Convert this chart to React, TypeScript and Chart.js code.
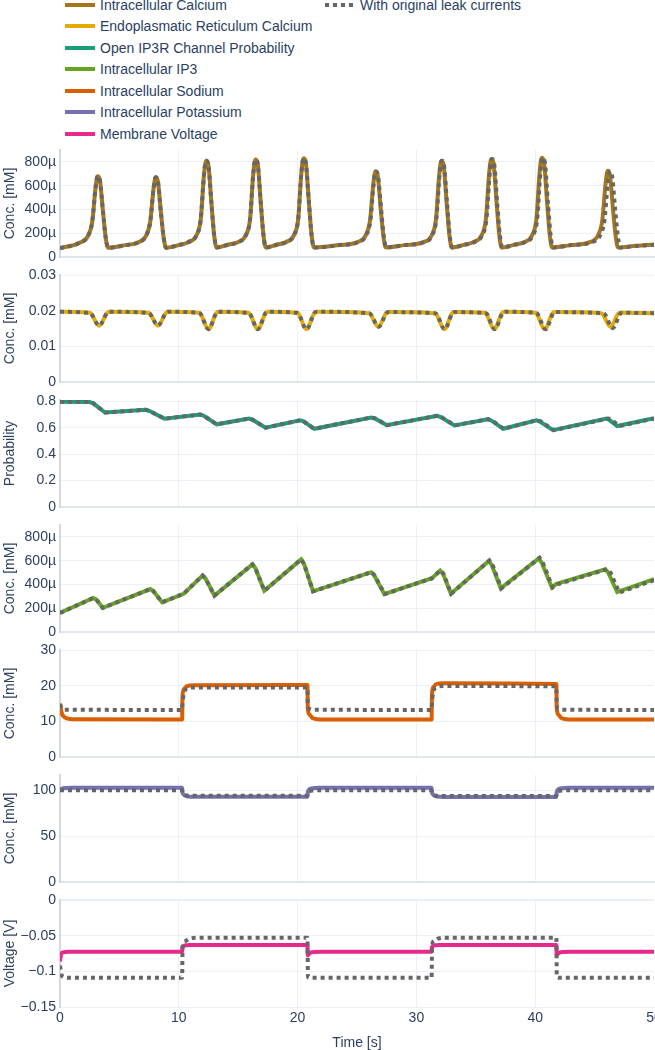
import React, { useEffect, useRef } from "react";
import { Chart, registerables } from "chart.js";

Chart.register(...registerables);

const FONT = '"Liberation Sans", Arial, sans-serif';
const TEXT = "#2a3f5f";
const GRID = "#ebf0f8";
const AXIS = "#d3d8df";
const DOT_COLOR = "#666666";

// ---------- tick values ----------
const TIME_TICKS = [0, 10, 20, 30, 40, 50];
const CA_TICKS = [0, 0.0002, 0.0004, 0.0006, 0.0008];
const ER_TICKS = [0, 0.01, 0.02, 0.03];
const PR_TICKS = [0, 0.2, 0.4, 0.6, 0.8];
const IP_TICKS = [0, 0.0002, 0.0004, 0.0006, 0.0008];
const NA_TICKS = [0, 10, 20, 30];
const K_TICKS = [0, 50, 100];
const V_TICKS = [-0.15, -0.1, -0.05, 0];

// ---------- legend ----------
const LEGEND_NAMES = [
  "Intracellular Calcium",
  "Endoplasmatic Reticulum Calcium",
  "Open IP3R Channel Probability",
  "Intracellular IP3",
  "Intracellular Sodium",
  "Intracellular Potassium",
  "Membrane Voltage",
];
const LEGEND_COLORS = ["#a6761d", "#e6ab02", "#1b9e77", "#66a61e", "#d95f02", "#7570b3", "#e7298a"];
const DOTTED_NAME = "With original leak currents";

// ---------- Intracellular calcium (µM) ----------
const CA_T = [
  0, 1.6, 2.37, 2.72, 2.99, 3.17, 3.35, 3.62, 3.85, 4.05,
  5.5, 6.55, 7.25, 7.6, 7.87, 8.05, 8.23, 8.5, 8.73, 8.93,
  10.0, 10.8, 11.5, 11.85, 12.12, 12.3, 12.48, 12.75, 12.98, 13.18,
  14.2, 14.95, 15.65, 16.0, 16.27, 16.45, 16.63, 16.9, 17.13, 17.33,
  18.3, 19.0, 19.7, 20.05, 20.32, 20.5, 20.68, 20.95, 21.18, 21.38,
  23.5, 25.05, 25.75, 26.1, 26.37, 26.55, 26.73, 27.0, 27.23, 27.43,
  29.0, 30.6, 31.3, 31.65, 31.92, 32.1, 32.28, 32.55, 32.78, 32.98,
  34.0, 34.8, 35.5, 35.85, 36.12, 36.3, 36.48, 36.75, 36.98, 37.18,
  38.2, 39.05, 39.75, 40.1, 40.37, 40.55, 40.73, 41.0, 41.23, 41.43,
  43.0, 44.6, 45.3, 45.65, 45.92, 46.1, 46.28, 46.55, 46.78, 46.98,
  48.5, 50,
];
const CA_UM = [
  75, 118, 180, 300, 580, 680, 650, 380, 160, 78,
  100, 122, 180, 300, 570, 670, 640, 370, 160, 78,
  100, 125, 185, 320, 690, 810, 780, 450, 180, 80,
  105, 125, 185, 320, 700, 820, 790, 455, 180, 80,
  105, 125, 185, 320, 710, 830, 800, 460, 180, 80,
  100, 125, 185, 310, 610, 720, 690, 400, 170, 80,
  100, 125, 185, 320, 690, 810, 780, 450, 180, 80,
  102, 125, 185, 320, 700, 825, 795, 455, 180, 80,
  102, 125, 185, 320, 710, 835, 805, 460, 180, 80,
  100, 125, 185, 310, 615, 725, 695, 400, 170, 80,
  95, 105,
];
const CA_ORIG_T = [
  0, 1.6, 2.37, 2.72, 2.99, 3.17, 3.35, 3.62, 3.85, 4.05,
  5.5, 6.55, 7.25, 7.6, 7.87, 8.05, 8.23, 8.5, 8.73, 8.93,
  10.0, 10.8, 11.5, 11.85, 12.12, 12.3, 12.48, 12.75, 12.98, 13.18,
  14.2, 14.95, 15.65, 16.0, 16.27, 16.45, 16.63, 16.9, 17.13, 17.33,
  18.3, 19.0, 19.7, 20.05, 20.32, 20.5, 20.68, 20.95, 21.18, 21.38,
  23.5, 25.08, 25.78, 26.13, 26.4, 26.58, 26.76, 27.03, 27.26, 27.46,
  29.0, 30.63, 31.33, 31.68, 31.95, 32.13, 32.31, 32.58, 32.81, 33.01,
  34.0, 34.85, 35.55, 35.9, 36.17, 36.35, 36.53, 36.8, 37.03, 37.23,
  38.2, 39.12, 39.82, 40.17, 40.44, 40.62, 40.8, 41.07, 41.3, 41.5,
  43.0, 44.78, 45.48, 45.83, 46.1, 46.28, 46.46, 46.73, 46.96, 47.16,
  48.5, 50,
];
const CA_ORIG_UM = [
  75, 118, 180, 300, 580, 680, 650, 380, 160, 78,
  100, 122, 180, 300, 570, 670, 640, 370, 160, 78,
  100, 125, 185, 320, 690, 810, 780, 450, 180, 80,
  105, 125, 185, 320, 700, 820, 790, 455, 180, 80,
  105, 125, 185, 320, 710, 830, 800, 460, 180, 80,
  100, 125, 185, 310, 610, 720, 690, 400, 170, 80,
  100, 125, 185, 320, 690, 810, 780, 450, 180, 80,
  102, 125, 185, 320, 700, 825, 795, 455, 180, 80,
  102, 125, 185, 320, 710, 835, 805, 460, 180, 80,
  100, 125, 185, 310, 610, 720, 690, 400, 170, 80,
  93, 102,
];

// ---------- ER calcium (mM) ----------
const ER_T = [
  0, 2.4, 2.6, 3.3, 3.95, 4.15,
  7.35, 7.55, 8.25, 8.9, 9.1,
  11.6, 11.8, 12.5, 13.15, 13.35,
  15.75, 15.95, 16.65, 17.3, 17.5,
  19.85, 20.05, 20.75, 21.4, 21.6,
  25.9, 26.1, 26.8, 27.45, 27.65,
  31.45, 31.65, 32.35, 33.0, 33.2,
  35.65, 35.85, 36.55, 37.2, 37.4,
  39.9, 40.1, 40.8, 41.45, 41.65,
  45.45, 45.65, 46.35, 47.0, 47.2,
  50,
];
const ER_V = [
  0.0197, 0.0194, 0.0192, 0.0158, 0.0193, 0.0197,
  0.0194, 0.0192, 0.0158, 0.0193, 0.0197,
  0.0194, 0.0192, 0.0148, 0.0193, 0.0197,
  0.0194, 0.0192, 0.0148, 0.0193, 0.0197,
  0.0194, 0.0192, 0.0148, 0.0193, 0.0197,
  0.0193, 0.0191, 0.0155, 0.0193, 0.0196,
  0.0193, 0.0191, 0.0148, 0.0193, 0.0196,
  0.0194, 0.0192, 0.0148, 0.0193, 0.0197,
  0.0194, 0.0192, 0.0148, 0.0193, 0.0196,
  0.0193, 0.0191, 0.0155, 0.0192, 0.0194,
  0.0193,
];
const ER_ORIG_T = [
  0, 2.4, 2.6, 3.3, 3.95, 4.15,
  7.35, 7.55, 8.25, 8.9, 9.1,
  11.6, 11.8, 12.5, 13.15, 13.35,
  15.75, 15.95, 16.65, 17.3, 17.5,
  19.85, 20.05, 20.75, 21.4, 21.6,
  25.93, 26.13, 26.83, 27.48, 27.68,
  31.48, 31.68, 32.38, 33.03, 33.23,
  35.7, 35.9, 36.6, 37.25, 37.45,
  39.97, 40.17, 40.87, 41.52, 41.72,
  45.63, 45.83, 46.53, 47.18, 47.38,
  50,
];
const ER_ORIG_V = [
  0.0197, 0.0194, 0.0192, 0.0158, 0.0193, 0.0197,
  0.0194, 0.0192, 0.0158, 0.0193, 0.0197,
  0.0194, 0.0192, 0.0148, 0.0193, 0.0197,
  0.0194, 0.0192, 0.0148, 0.0193, 0.0197,
  0.0194, 0.0192, 0.0148, 0.0193, 0.0197,
  0.0193, 0.0191, 0.0155, 0.0193, 0.0196,
  0.0193, 0.0191, 0.0148, 0.0193, 0.0196,
  0.0194, 0.0192, 0.0148, 0.0193, 0.0197,
  0.0194, 0.0192, 0.0148, 0.0193, 0.0196,
  0.0193, 0.0191, 0.0151, 0.0192, 0.0194,
  0.0193,
];

// ---------- Open IP3R channel probability ----------
const PR_T = [
  0, 2.5, 2.8, 3.8, 7.2, 7.5, 8.8, 11.8, 12.1, 13.2, 15.9, 16.2, 17.3,
  20.2, 20.5, 21.4, 26.2, 26.5, 27.5, 31.75, 32.05, 33.2, 36.0, 36.3, 37.3,
  40.1, 40.4, 41.5, 46.0, 46.2, 46.9, 50,
];
const PR_V = [
  0.797, 0.794, 0.785, 0.715, 0.736, 0.728, 0.669, 0.7, 0.691, 0.626, 0.669, 0.661, 0.6,
  0.656, 0.648, 0.592, 0.677, 0.67, 0.62, 0.69, 0.681, 0.618, 0.664, 0.655, 0.592,
  0.656, 0.647, 0.582, 0.669, 0.662, 0.613, 0.672,
];
const PR_ORIG_T = [
  0, 2.5, 2.8, 3.8, 7.2, 7.5, 8.8, 11.8, 12.1, 13.2, 15.9, 16.2, 17.3,
  20.2, 20.5, 21.4, 26.23, 26.53, 27.53, 31.78, 32.08, 33.23, 36.05, 36.35, 37.35,
  40.17, 40.47, 41.57, 46.18, 46.38, 47.08, 50,
];
const PR_ORIG_V = [
  0.797, 0.794, 0.785, 0.715, 0.736, 0.728, 0.669, 0.7, 0.691, 0.626, 0.669, 0.661, 0.6,
  0.656, 0.648, 0.592, 0.678, 0.671, 0.62, 0.691, 0.682, 0.618, 0.665, 0.656, 0.592,
  0.657, 0.648, 0.582, 0.67, 0.663, 0.613, 0.669,
];

// ---------- Intracellular IP3 (µM) ----------
const IP_T = [
  0, 2.8, 3.05, 3.6, 7.6, 7.85, 8.6, 10.4, 12.0, 12.25, 13.0, 16.2, 16.45, 17.2,
  20.3, 20.55, 21.3, 26.2, 26.45, 27.3, 31.3, 32.0, 32.25, 32.9, 36.1, 36.35, 37.1,
  40.3, 40.55, 41.4, 41.8, 45.9, 46.15, 46.9, 50,
];
const IP_UM = [
  160, 286, 274, 203, 361, 344, 250, 321, 475, 450, 306, 569, 536, 347,
  611, 571, 342, 503, 475, 319, 452, 517, 488, 322, 597, 562, 367,
  619, 582, 375, 405, 528, 499, 336, 444,
];
const IP_ORIG_T = [
  0, 2.8, 3.05, 3.6, 7.6, 7.85, 8.6, 10.4, 12.0, 12.25, 13.0, 16.2, 16.45, 17.2,
  20.3, 20.55, 21.3, 26.23, 26.48, 27.33, 31.3, 32.03, 32.28, 32.93, 36.15, 36.4, 37.15,
  40.37, 40.62, 41.47, 41.85, 46.08, 46.33, 47.08, 50,
];
const IP_ORIG_UM = [
  160, 286, 274, 203, 361, 344, 250, 321, 475, 450, 306, 569, 536, 347,
  611, 571, 342, 504, 476, 319, 451, 519, 490, 322, 601, 566, 367,
  625, 588, 375, 400, 530, 501, 332, 436,
];

// ---------- Intracellular sodium (mM) ----------
const NA_T = [
  0, 0.12, 0.3, 0.6, 1.1, 10.28, 10.31, 10.43, 10.7, 11.25,
  20.83, 20.86, 21.0, 21.23, 21.63, 22.3, 31.28, 31.31, 31.43, 31.7, 32.25,
  41.78, 41.81, 41.95, 42.18, 42.58, 43.2, 50,
];
const NA_V = [
  15.0, 12.6, 11.4, 10.8, 10.55, 10.5, 17.0, 19.0, 19.9, 20.15,
  20.2, 13.6, 11.9, 11.0, 10.6, 10.5, 10.5, 17.5, 19.6, 20.5, 20.7,
  20.5, 13.7, 11.9, 11.0, 10.6, 10.5, 10.5,
];
const NA_ORIG_T = [
  0, 0.15, 0.4, 10.28, 10.31, 10.45, 10.7, 11.2, 20.83, 20.86, 21.0, 21.3,
  31.28, 31.31, 31.45, 31.7, 32.2, 41.78, 41.81, 41.95, 42.25, 50,
];
const NA_ORIG_V = [
  14.8, 13.6, 13.25, 13.2, 15.0, 18.0, 19.2, 19.5, 19.5, 14.5, 13.5, 13.25,
  13.2, 15.2, 18.4, 19.6, 19.9, 19.8, 14.6, 13.5, 13.25, 13.2,
];

// ---------- Intracellular potassium (mM) ----------
const K_T = [
  0, 0.15, 0.5, 1.0, 10.28, 10.31, 10.45, 10.75, 11.3, 20.83, 20.86, 21.0, 21.3, 21.8,
  31.28, 31.31, 31.45, 31.75, 32.3, 41.78, 41.81, 41.95, 42.25, 42.8, 50,
];
const K_V = [
  100.5, 102, 102.8, 103, 103, 98, 95, 93.6, 93.3, 93.3, 98.5, 101.5, 102.6, 103,
  103, 98, 95, 93.4, 93.0, 93.0, 98.5, 101.5, 102.6, 103, 103,
];
const K_ORIG_T = [
  0, 10.28, 10.31, 10.45, 10.75, 11.3, 20.83, 20.86, 21.0, 21.3, 21.8,
  31.28, 31.31, 31.45, 31.75, 32.3, 41.78, 41.81, 41.95, 42.25, 42.8, 50,
];
const K_ORIG_V = [
  100.2, 100.2, 97.5, 95.3, 94.5, 94.3, 94.3, 97.5, 99.3, 100.0, 100.2,
  100.2, 97.5, 95.2, 94.3, 94.1, 94.1, 97.5, 99.3, 100.0, 100.2, 100.2,
];

// ---------- Membrane voltage (V) ----------
const V_T = [
  0, 0.08, 0.25, 0.7, 10.28, 10.31, 10.45, 10.9, 20.83, 20.86, 21.0, 21.35, 22,
  31.28, 31.31, 31.45, 31.9, 41.78, 41.81, 41.95, 42.3, 43, 50,
];
const V_V = [
  -0.086, -0.077, -0.0735, -0.0725, -0.0724, -0.0665, -0.064, -0.063, -0.063, -0.0775, -0.0748, -0.0728, -0.0725,
  -0.0725, -0.0665, -0.064, -0.063, -0.063, -0.0775, -0.0748, -0.0728, -0.0725, -0.0725,
];
const V_ORIG_T = [
  0, 0.12, 0.35, 1.0, 10.28, 10.32, 10.5, 10.85, 11.5, 20.83, 20.87, 21.05,
  31.28, 31.32, 31.5, 31.85, 32.5, 41.78, 41.82, 42.0, 50,
];
const V_ORIG_V = [
  -0.092, -0.104, -0.1085, -0.109, -0.109, -0.065, -0.058, -0.0545, -0.053, -0.0528, -0.108, -0.109,
  -0.109, -0.064, -0.057, -0.054, -0.0528, -0.0528, -0.108, -0.109, -0.109,
];

type Pt = { x: number; y: number };
const pts = (t: number[], v: number[], unit = 1): Pt[] => t.map((x, i) => ({ x, y: v[i] * unit }));
const MICRO = 1e-6;

const fmtMicro = (v: number) => (v === 0 ? "0" : Math.round(v * 1e6) + "µ");
const fmtPlain = (v: number) => {
  const s = String(Math.round(v * 1000) / 1000);
  return s.replace("-", "\u2212");
};

interface PanelCfg {
  top: number;
  title: string;
  color: string;
  solid: Pt[];
  dotted: Pt[];
  min: number;
  max: number;
  ticks: number[];
  fmt: (v: number) => string;
  smooth: boolean;
  bottom?: boolean;
}

const PITCH = 125;
const FIRST_TOP = 150;
const PLOT_H = 107;

const PANELS: PanelCfg[] = [
  { top: FIRST_TOP, title: "Conc. [mM]", color: LEGEND_COLORS[0], solid: pts(CA_T, CA_UM, MICRO), dotted: pts(CA_ORIG_T, CA_ORIG_UM, MICRO), min: 0, max: 0.0009, ticks: CA_TICKS, fmt: fmtMicro, smooth: true },
  { top: FIRST_TOP + PITCH, title: "Conc. [mM]", color: LEGEND_COLORS[1], solid: pts(ER_T, ER_V), dotted: pts(ER_ORIG_T, ER_ORIG_V), min: 0, max: 0.03, ticks: ER_TICKS, fmt: fmtPlain, smooth: true },
  { top: FIRST_TOP + PITCH * 2, title: "Probability", color: LEGEND_COLORS[2], solid: pts(PR_T, PR_V), dotted: pts(PR_ORIG_T, PR_ORIG_V), min: 0, max: 0.81, ticks: PR_TICKS, fmt: fmtPlain, smooth: false },
  { top: FIRST_TOP + PITCH * 3, title: "Conc. [mM]", color: LEGEND_COLORS[3], solid: pts(IP_T, IP_UM, MICRO), dotted: pts(IP_ORIG_T, IP_ORIG_UM, MICRO), min: 0, max: 0.0009, ticks: IP_TICKS, fmt: fmtMicro, smooth: false },
  { top: FIRST_TOP + PITCH * 4, title: "Conc. [mM]", color: LEGEND_COLORS[4], solid: pts(NA_T, NA_V), dotted: pts(NA_ORIG_T, NA_ORIG_V), min: 0, max: 30, ticks: NA_TICKS, fmt: fmtPlain, smooth: true },
  { top: FIRST_TOP + PITCH * 5, title: "Conc. [mM]", color: LEGEND_COLORS[5], solid: pts(K_T, K_V), dotted: pts(K_ORIG_T, K_ORIG_V), min: 0, max: 117, ticks: K_TICKS, fmt: fmtPlain, smooth: true },
  { top: FIRST_TOP + PITCH * 6, title: "Voltage [V]", color: LEGEND_COLORS[6], solid: pts(V_T, V_V), dotted: pts(V_ORIG_T, V_ORIG_V), min: -0.15, max: 0, ticks: V_TICKS, fmt: fmtPlain, smooth: true, bottom: true },
];

const W = 655;
const PAD = 10;

function Panel({ cfg }: { cfg: PanelCfg }) {
  const ref = useRef<HTMLCanvasElement | null>(null);
  const bottom = !!cfg.bottom;
  const xAxisH = bottom ? 43 : 0;
  const canvasH = PAD + PLOT_H + (bottom ? xAxisH : PAD);

  useEffect(() => {
    if (!ref.current) return;
    const lineMode = cfg.smooth
      ? { cubicInterpolationMode: "monotone" }
      : { cubicInterpolationMode: "default", tension: 0 };
    const chart = new Chart(ref.current, {
      type: "line",
      data: {
        datasets: [
          {
            data: cfg.dotted,
            borderColor: DOT_COLOR,
            borderWidth: 4,
            borderDash: [4, 4],
            borderCapStyle: "butt",
            pointRadius: 0,
            fill: false,
            ...lineMode,
          },
          {
            data: cfg.solid,
            borderColor: cfg.color,
            borderWidth: 4,
            pointRadius: 0,
            fill: false,
            ...lineMode,
          },
        ],
      },
      options: {
        animation: false,
        responsive: false,
        events: [],
        layout: { padding: { top: PAD, bottom: bottom ? 0 : PAD, left: 0, right: 1 } },
        plugins: { legend: { display: false }, tooltip: { enabled: false } },
        scales: {
          x: {
            type: "linear",
            min: 0,
            max: 50,
            afterBuildTicks: (s: any) => {
              s.ticks = TIME_TICKS.map((value) => ({ value }));
            },
            afterFit: (s: any) => {
              s.paddingLeft = 0;
              s.paddingRight = 0;
              s.height = xAxisH;
            },
            grid: {
              color: (c: any) => (c.tick && c.tick.value === 50 ? "rgba(0,0,0,0)" : GRID),
              drawTicks: false,
              lineWidth: 1,
            },
            border: { color: bottom ? GRID : "#e1e6ed", width: bottom ? 1 : 2 },
            ticks: {
              display: bottom,
              padding: 3,
              maxRotation: 0,
              color: TEXT,
              font: { family: FONT, size: 14 },
              callback: (v: any) => String(v),
            },
            title: {
              display: bottom,
              text: "Time [s]",
              color: TEXT,
              padding: { top: 0, bottom: 0 },
              font: { family: FONT, size: 14, lineHeight: 1 },
            },
          },
          y: {
            type: "linear",
            min: cfg.min,
            max: cfg.max,
            afterBuildTicks: (s: any) => {
              s.ticks = cfg.ticks.map((value) => ({ value }));
            },
            afterFit: (s: any) => {
              s.width = 60;
              s.paddingTop = 0;
              s.paddingBottom = 0;
            },
            grid: {
              color: GRID,
              lineWidth: (c: any) => (c.tick && c.tick.value === 0 ? 2 : 1),
              drawTicks: false,
            },
            border: { color: AXIS, width: 2 },
            ticks: {
              padding: 4,
              color: TEXT,
              font: { family: FONT, size: 14 },
              callback: (v: any) => cfg.fmt(Number(v)),
            },
            title: {
              display: true,
              text: cfg.title,
              color: TEXT,
              padding: { top: 2, bottom: 0 },
              font: { family: FONT, size: 14 },
            },
          },
        },
      },
    } as any);
    return () => chart.destroy();
  }, [cfg]);

  return (
    <canvas
      ref={ref}
      width={W}
      height={canvasH}
      style={{ position: "absolute", left: 0, top: cfg.top - PAD, width: W, height: canvasH, display: "block" }}
    />
  );
}

function LegendRow({ left, y, color, dotted, name }: { left: number; y: number; color: string; dotted?: boolean; name: string }) {
  return (
    <div style={{ position: "absolute", left, top: y - 10, height: 20, display: "flex", alignItems: "center" }}>
      <svg width={40} height={20} style={{ display: "block", flex: "none" }}>
        <line x1={5} y1={10} x2={35} y2={10} stroke={color} strokeWidth={4} strokeDasharray={dotted ? "4 4" : undefined} />
      </svg>
      <span style={{ font: `14px ${FONT}`, color: TEXT, whiteSpace: "nowrap", lineHeight: "20px" }}>{name}</span>
    </div>
  );
}

export default function App() {
  return (
    <div style={{ position: "absolute", left: 0, top: 0, width: W, height: 1050, overflow: "hidden", background: "#fff" }}>
      {LEGEND_NAMES.map((n, i) => (
        <LegendRow key={n} left={60} y={4.5 + 21.5 * i} color={LEGEND_COLORS[i]} name={n} />
      ))}
      <LegendRow left={320} y={4.5} color={DOT_COLOR} dotted name={DOTTED_NAME} />
      {PANELS.map((p, i) => (
        <Panel key={i} cfg={p} />
      ))}
    </div>
  );
}
